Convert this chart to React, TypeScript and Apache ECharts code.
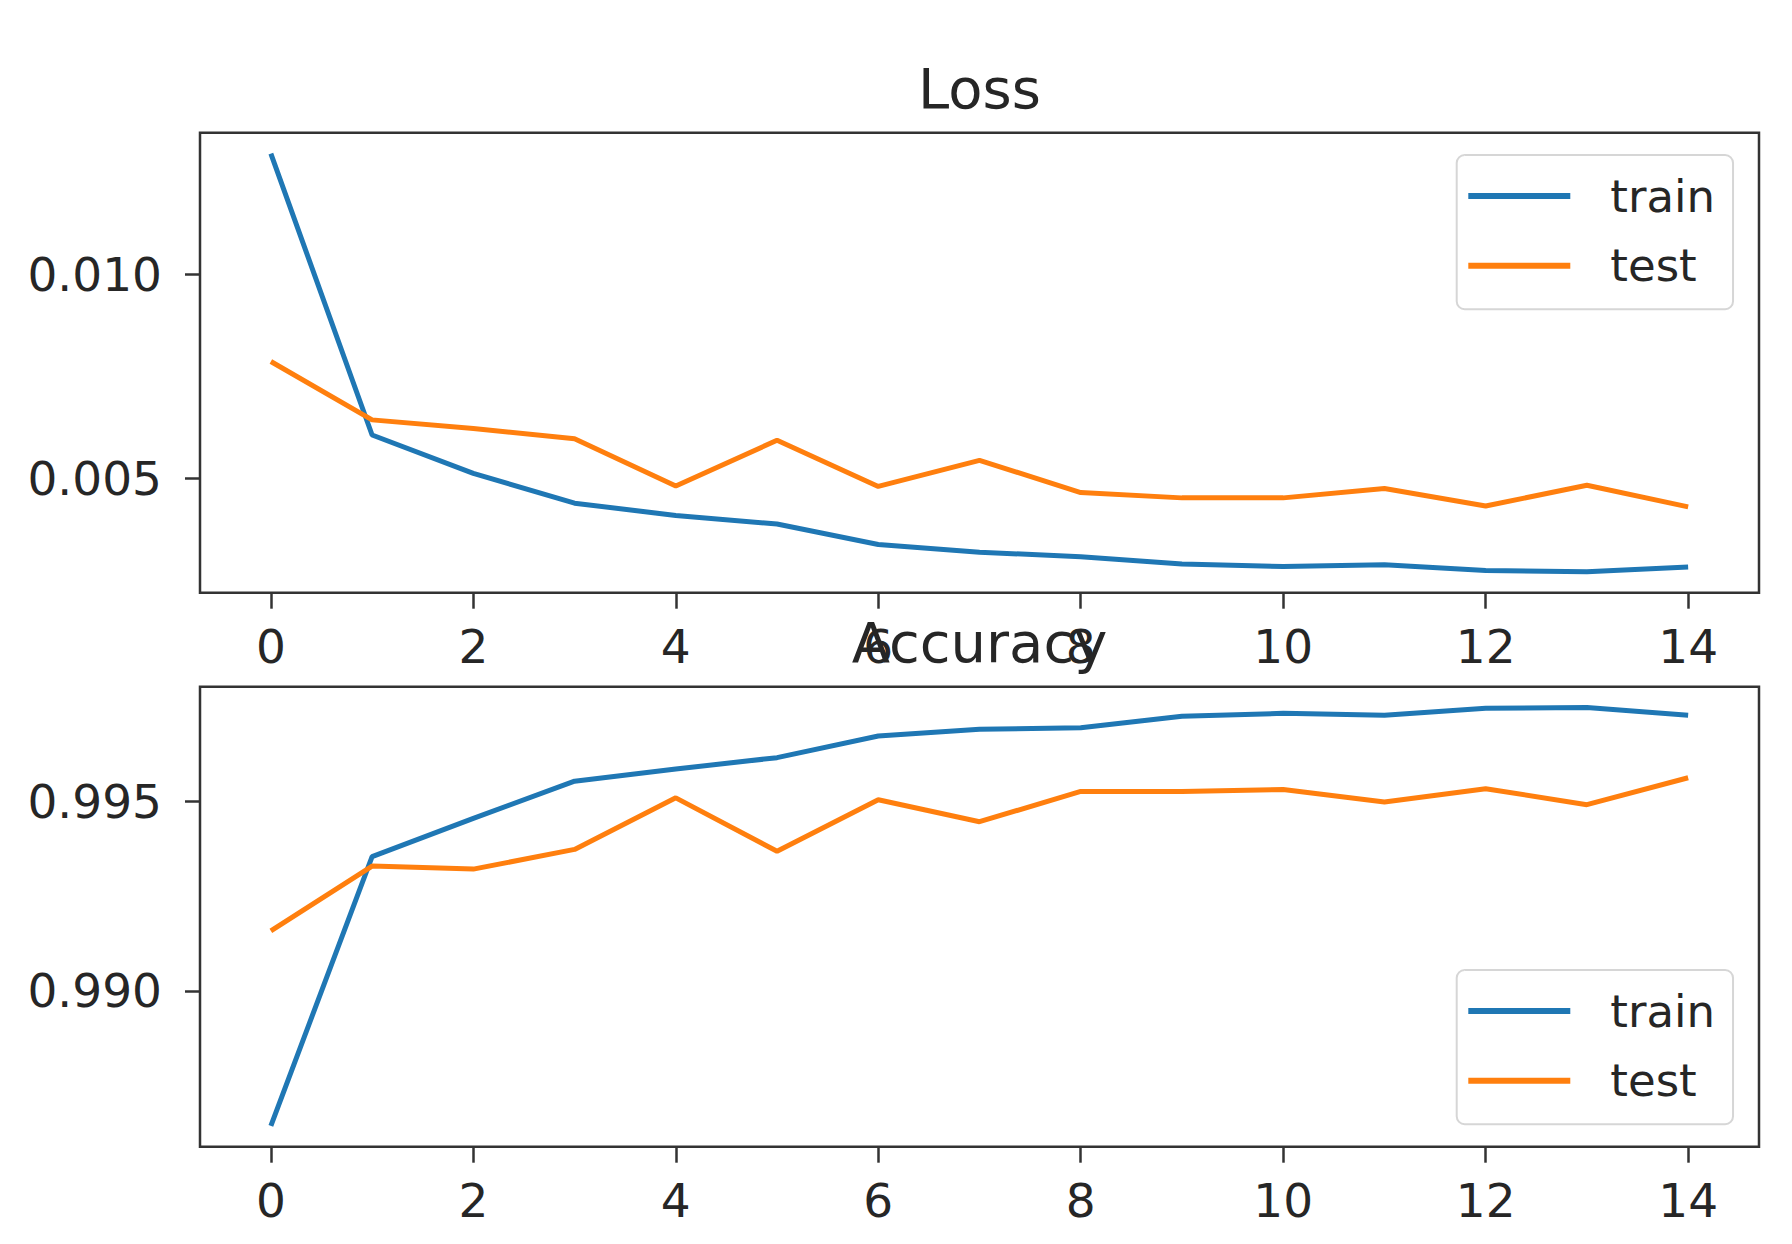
import React, { useEffect, useRef } from "react";
import * as echarts from "echarts";

const epochs = [0, 1, 2, 3, 4, 5, 6, 7, 8, 9, 10, 11, 12, 13, 14];
const lossTrain = [0.01295, 0.00606, 0.00512, 0.00439, 0.00409, 0.00388, 0.00338, 0.00319, 0.00308, 0.0029, 0.00284, 0.00288, 0.00274, 0.00271, 0.00283];
const lossTest = [0.00786, 0.00643, 0.00622, 0.00597, 0.00481, 0.00593, 0.0048, 0.00544, 0.00465, 0.00452, 0.00452, 0.00475, 0.00432, 0.00483, 0.0043];
const accTrain = [0.98644, 0.99354, 0.99455, 0.99553, 0.99585, 0.99615, 0.99672, 0.9969, 0.99694, 0.99724, 0.99732, 0.99727, 0.99745, 0.99747, 0.99727];
const accTest = [0.99158, 0.99329, 0.99321, 0.99373, 0.99509, 0.99368, 0.99504, 0.99446, 0.99526, 0.99526, 0.99531, 0.99498, 0.99533, 0.99491, 0.99562];
const xTicks = [0, 2, 4, 6, 8, 10, 12, 14];
const lossTicks = [0.005, 0.01];
const accTicks = [0.99, 0.995];
const seriesNames = ["train", "test"];
const titles = ["Loss", "Accuracy"];

const BLUE = "#1f77b4";
const ORANGE = "#ff7f0e";
const FONT = "DejaVu Sans";
const TEXT = "#262626";
const SPINE = "#333333";

export default function App() {
  const ref = useRef<HTMLDivElement>(null);
  useEffect(() => {
    if (!ref.current) return;
    const chart = echarts.init(ref.current, null, { renderer: "svg" });

    const gridL = 200;
    const gridW = 1559;
    const gridH = 460;
    const tops = [132.7, 686.7];

    const xAxisCfg = (gi: number) => ({
      type: "value",
      gridIndex: gi,
      position: "bottom",
      min: -0.7,
      max: 14.7,
      axisLine: { show: false, onZero: false },
      splitLine: { show: false },
      axisTick: {
        show: true,
        inside: false,
        length: 16,
        customValues: xTicks,
        lineStyle: { color: SPINE, width: 2.5 },
      },
      axisLabel: {
        customValues: xTicks,
        margin: 30,
        color: TEXT,
        fontSize: 47,
        fontFamily: FONT,
      },
    });

    const yAxisCfg = (gi: number, ticks: number[]) => ({
      type: "value",
      gridIndex: gi,
      position: "left",
      min: (e: any) => e.min - 0.05 * (e.max - e.min),
      max: (e: any) => e.max + 0.05 * (e.max - e.min),
      axisLine: { show: false, onZero: false },
      splitLine: { show: false },
      axisTick: {
        show: true,
        inside: false,
        length: 15,
        customValues: ticks,
        lineStyle: { color: SPINE, width: 2.5 },
      },
      axisLabel: {
        customValues: ticks,
        margin: 38,
        color: TEXT,
        fontSize: 47,
        fontFamily: FONT,
        formatter: (v: number) => v.toFixed(3),
      },
    });

    const line = (name: string, gi: number, ys: number[], color: string) => ({
      type: "line",
      name,
      xAxisIndex: gi,
      yAxisIndex: gi,
      data: epochs.map((e, i) => [e, ys[i]]),
      symbol: "none",
      showSymbol: false,
      lineStyle: { color, width: 5 },
      itemStyle: { color },
      emphasis: { disabled: true },
    });

    const legendCfg = (top: number) => ({
      data: seriesNames,
      orient: "vertical",
      left: 1456.7,
      top,
      icon: "rect",
      itemWidth: 102,
      itemHeight: 6,
      itemGap: 22.7,
      padding: [17.5, 18, 20, 11.6],
      borderColor: "#d6d6d6",
      borderWidth: 2,
      borderRadius: 8,
      backgroundColor: "rgba(255,255,255,0.8)",
      selectedMode: false,
      textStyle: {
        color: TEXT,
        fontSize: 45,
        fontFamily: FONT,
        lineHeight: 47,
        padding: [0, 0, 0, 35],
      },
    });

    chart.setOption({
      animation: false,
      backgroundColor: "#ffffff",
      grid: tops.map((t) => ({
        left: gridL,
        top: t,
        width: gridW,
        height: gridH,
        show: true,
        borderColor: SPINE,
        borderWidth: 2.5,
        backgroundColor: "transparent",
        containLabel: false,
        outerBoundsMode: "none",
      })),
      xAxis: [xAxisCfg(0), xAxisCfg(1)],
      yAxis: [yAxisCfg(0, lossTicks), yAxisCfg(1, accTicks)],
      legend: [legendCfg(155), legendCfg(970)],
      series: [
        line(seriesNames[0], 0, lossTrain, BLUE),
        line(seriesNames[1], 0, lossTest, ORANGE),
        line(seriesNames[0], 1, accTrain, BLUE),
        line(seriesNames[1], 1, accTest, ORANGE),
      ],
      graphic: titles.map((t, i) => ({
        type: "text",
        x: gridL + gridW / 2,
        y: tops[i] - 72,
        z: 100,
        style: {
          text: t,
          fill: TEXT,
          font: `56px ${FONT}`,
          textAlign: "center",
          textVerticalAlign: "top",
        },
      })),
    });
    return () => chart.dispose();
  }, []);
  return (
    <div
      ref={ref}
      style={{ position: "fixed", left: 0, top: 0, width: 1792, height: 1244 }}
    />
  );
}
